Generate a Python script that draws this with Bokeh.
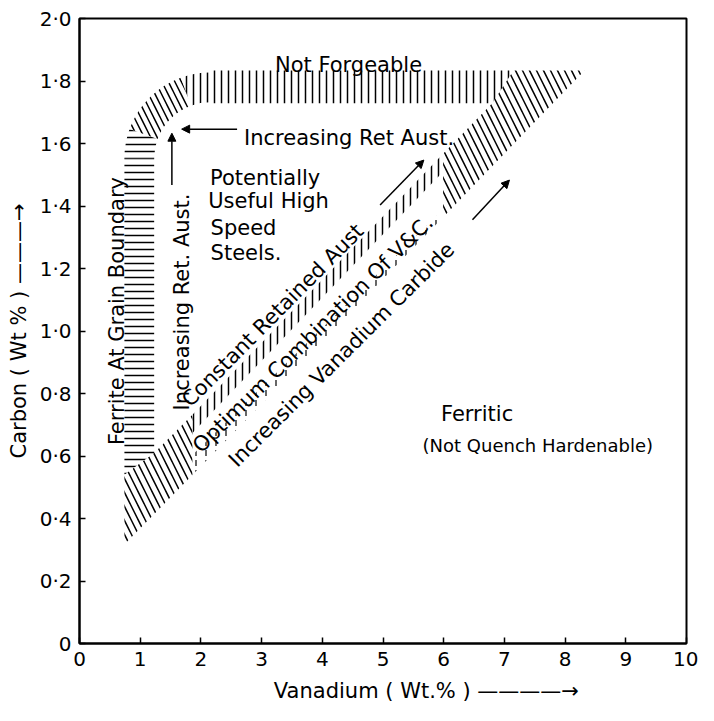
from bokeh.plotting import figure
from bokeh.models import Range1d, FixedTicker, CustomJSTickFormatter, Arrow, NormalHead
from bokeh.core.properties import value
from bokeh.embed import file_html
from bokeh.resources import INLINE

FONT = "DejaVu Sans"

# ---- axes ----
x_ticks = [0, 1, 2, 3, 4, 5, 6, 7, 8, 9, 10]
y_ticks = [0, 0.2, 0.4, 0.6, 0.8, 1.0, 1.2, 1.4, 1.6, 1.8, 2.0]
x_title = "Vanadium ( Wt.% )"
y_title = "Carbon ( Wt % )"

# ---- hatched regions (Vanadium wt%, Carbon wt%) ----
# left band: ferrite at grain boundary (horizontal hatching)
left_band_x = [0.74, 1.23, 1.23, 0.74]
left_band_y = [0.54, 0.61, 1.553, 1.553]
# top band: not forgeable (vertical hatching)
top_band_x = [2.15, 7.15, 6.80, 2.15]
top_band_y = [1.834, 1.834, 1.729, 1.729]
# rounded corner joining the two bands
corner_x = [2.15]
corner_y = [1.553]
corner_inner = 0.92
corner_outer = 1.41
corner_start = [160, 110, 90]
corner_end = [180, 160, 110]
corner_hatch = ["-", "\\", "|"]
# diagonal band: lower-left part
diag_low_x = [0.74, 0.74, 1.23, 1.86, 1.86, 0.75]
diag_low_y = [0.33, 0.54, 0.61, 0.732, 0.539, 0.319]
# diagonal band: upper-right part
diag_high_x = [5.99, 6.80, 7.15, 8.32, 5.99]
diag_high_y = [1.567, 1.729, 1.834, 1.834, 1.364]
# diagonal band: constant retained austenite strip
diag_mid_top_x = [1.86, 5.99, 5.99, 1.86]
diag_mid_top_y = [0.732, 1.567, 1.510, 0.674]
# diagonal band: optimum combination strip
diag_mid_bot_x = [1.86, 5.99, 5.99, 1.86]
diag_mid_bot_y = [0.603, 1.388, 1.364, 0.539]

# ---- texts ----
flat_text = ["Not Forgeable", "Increasing Ret Aust.", "Potentially", "Useful High", "Speed", "Steels."]
flat_x = [3.22, 2.71, 2.15, 2.12, 2.16, 2.16]
flat_y = [1.852, 1.617, 1.490, 1.416, 1.330, 1.250]

center_text = ["Ferritic", "(Not Quench Hardenable)"]
center_x = [6.55, 7.55]
center_y = [0.734, 0.635]
center_size = ["21px", "18px"]

vert_text = ["Ferrite At Grain Boundary", "Increasing Ret. Aust."]
vert_x = [0.625, 1.683]
vert_y = [0.635, 0.746]

diag_text = ["Constant Retained Aust", "Optimum Combination Of V&C.", "Increasing Vanadium Carbide"]
diag_x = [1.747, 1.923, 2.516]
diag_y = [0.769, 0.622, 0.577]
diag_angle = [45.2, 44.6, 44.8]

# arrows (start x, start y, end x, end y)
arrow_x0 = [2.596, 1.522, 4.952, 6.474]
arrow_y0 = [1.646, 1.467, 1.403, 1.356]
arrow_x1 = [1.683, 1.522, 5.673, 7.083]
arrow_y1 = [1.646, 1.633, 1.547, 1.483]

p = figure(width=698, height=705, x_range=Range1d(0, 10), y_range=Range1d(0, 2.0),
           output_backend="svg", toolbar_location=None,
           min_border_left=79, min_border_right=12, min_border_top=18, min_border_bottom=62)
p.background_fill_color = "white"
p.border_fill_color = "white"
p.outline_line_color = "black"
p.outline_line_width = 2
p.grid.visible = False

for ax in (p.xaxis, p.yaxis):
    ax.axis_line_width = 2
    ax.axis_line_color = "black"
    ax.major_tick_in = 6
    ax.major_tick_out = 0
    ax.major_tick_line_width = 1.5
    ax.minor_tick_line_color = None
    ax.major_label_text_font = FONT
    ax.major_label_text_font_size = "20px"
    ax.major_label_text_color = "black"
    ax.axis_label_text_font = FONT
    ax.axis_label_text_font_size = "21px"
    ax.axis_label_text_font_style = "normal"
    ax.axis_label_text_color = "black"

p.xaxis.axis_label_standoff = 10
p.yaxis.axis_label_standoff = 6
p.xaxis.ticker = FixedTicker(ticks=x_ticks)
p.yaxis.ticker = FixedTicker(ticks=y_ticks)
p.yaxis.formatter = CustomJSTickFormatter(
    code="return tick == 0 ? '0' : tick.toFixed(1).replace('.', '\u00b7');")
p.xaxis.major_label_standoff = 8
p.yaxis.major_label_standoff = 8
p.xaxis.axis_label = "\u00a0" * 13 + x_title + " \u2014\u2014\u2014\u2014\u2192"
p.yaxis.axis_label = y_title + " \u2014\u2014\u2014\u2192"

hatch = dict(fill_color=None, line_color=None, hatch_color="black", hatch_weight=1.5)

p.patch(left_band_x, left_band_y, hatch_pattern="-", hatch_scale=7, **hatch)
p.patch(top_band_x, top_band_y, hatch_pattern="|", hatch_scale=7, **hatch)
for s, e, h in zip(corner_start, corner_end, corner_hatch):
    p.annular_wedge(x=corner_x, y=corner_y, inner_radius=corner_inner, outer_radius=corner_outer,
                    start_angle=s, end_angle=e, start_angle_units="deg", end_angle_units="deg",
                    hatch_pattern=h, hatch_scale=(13 if h == "\\" else 7), **hatch)
p.patch(diag_low_x, diag_low_y, hatch_pattern="\\", hatch_scale=14, **hatch)
p.patch(diag_high_x, diag_high_y, hatch_pattern="\\", hatch_scale=14, **hatch)
p.patch(diag_mid_top_x, diag_mid_top_y, hatch_pattern="|", hatch_scale=7, **hatch)
p.patch(diag_mid_bot_x, diag_mid_bot_y, hatch_pattern=":", fill_color=None, line_color=None,
        hatch_color="black", hatch_weight=1.2, hatch_scale=10)

txt = dict(text_font=value(FONT), text_color="black")
p.text(flat_x, flat_y, text=flat_text, text_font_size=value("21px"),
       text_align="left", text_baseline="alphabetic", **txt)
for t, x, y, s in zip(center_text, center_x, center_y, center_size):
    p.text([x], [y], text=[t], text_font_size=value(s), text_align="center",
           text_baseline="alphabetic", **txt)
p.text(vert_x, vert_y, text=vert_text, angle=90, angle_units="deg", text_font_size=value("21px"),
       text_align="left", text_baseline="alphabetic", **txt)
for t, x, y, a in zip(diag_text, diag_x, diag_y, diag_angle):
    p.text([x], [y], text=[t], angle=a, angle_units="deg", text_font_size=value("21px"),
           text_align="left", text_baseline="alphabetic", **txt)

for x0, y0, x1, y1 in zip(arrow_x0, arrow_y0, arrow_x1, arrow_y1):
    p.add_layout(Arrow(end=NormalHead(size=8, fill_color="black", line_color="black", line_width=1),
                       x_start=x0, y_start=y0, x_end=x1, y_end=y1,
                       line_width=1.5, line_color="black"))

open("out.html", "w").write(file_html(p, INLINE))
